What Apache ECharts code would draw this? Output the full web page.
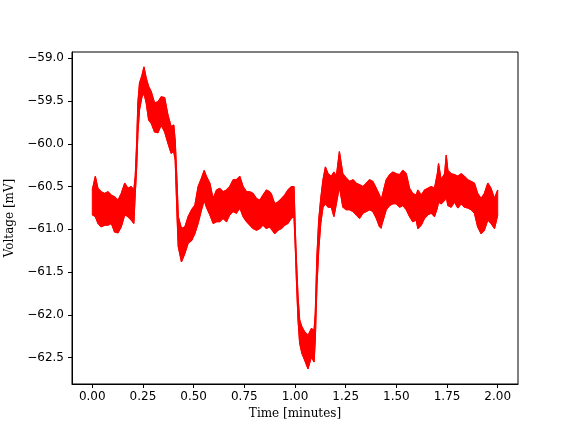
<!DOCTYPE html>
<html>
<head>
<meta charset="utf-8">
<script src="https://cdn.jsdelivr.net/npm/echarts@6/dist/echarts.min.js"></script>
<style>
html,body{margin:0;padding:0;background:#fff;}
#chart{width:576px;height:432px;}
</style>
</head>
<body>
<div id="chart"></div>
<script>
// Time in minutes
const timeMin = [
0.000,0.015,0.028,0.044,0.061,0.077,0.094,0.110,0.127,0.143,0.160,0.176,0.192,0.205,0.212,0.219,0.225,0.233,0.245,0.255,
0.266,0.278,0.291,0.307,0.324,0.340,0.357,0.373,0.389,0.402,0.409,0.419,0.424,0.440,0.457,0.473,0.490,0.506,0.522,0.539,
0.552,0.563,0.580,0.596,0.613,0.629,0.645,0.662,0.678,0.695,0.711,0.728,0.744,0.761,0.777,0.793,0.810,0.826,0.842,0.859,
0.875,0.884,0.900,0.916,0.933,0.949,0.965,0.982,0.995,1.002,1.007,1.015,1.023,1.034,1.048,1.064,1.081,1.094,1.100,1.108,
1.117,1.127,1.138,1.150,1.163,1.179,1.192,1.204,1.219,1.236,1.253,1.269,1.286,1.302,1.319,1.335,1.352,1.368,1.384,1.401,
1.417,1.425,1.433,1.450,1.467,1.483,1.500,1.516,1.532,1.549,1.565,1.581,1.598,1.606,1.623,1.639,1.655,1.672,1.688,1.702,
1.708,1.721,1.738,1.746,1.754,1.770,1.787,1.803,1.820,1.836,1.852,1.869,1.885,1.901,1.918,1.934,1.951,1.967,1.984,2.000
];
// Upper envelope of the noisy voltage trace [mV]
const voltHigh = [
-60.54,-60.38,-60.52,-60.56,-60.58,-60.56,-60.60,-60.62,-60.66,-60.58,-60.46,-60.52,-60.50,-60.54,-60.38,-59.99,-59.52,-59.29,-59.20,-59.10,
-59.23,-59.33,-59.39,-59.52,-59.51,-59.45,-59.46,-59.66,-59.80,-59.78,-59.96,-60.50,-60.85,-60.99,-60.97,-60.85,-60.77,-60.72,-60.50,-60.40,
-60.31,-60.38,-60.46,-60.64,-60.54,-60.52,-60.56,-60.54,-60.50,-60.42,-60.42,-60.38,-60.50,-60.56,-60.56,-60.58,-60.64,-60.66,-60.60,-60.54,
-60.56,-60.58,-60.70,-60.68,-60.64,-60.60,-60.54,-60.50,-60.50,-61.05,-61.36,-61.79,-62.06,-62.14,-62.20,-62.24,-62.16,-62.18,-61.98,-61.32,
-60.89,-60.64,-60.42,-60.27,-60.35,-60.38,-60.33,-60.38,-60.09,-60.35,-60.40,-60.44,-60.42,-60.46,-60.48,-60.50,-60.46,-60.42,-60.44,-60.52,
-60.60,-60.66,-60.58,-60.42,-60.36,-60.33,-60.35,-60.36,-60.31,-60.35,-60.52,-60.58,-60.60,-60.54,-60.60,-60.54,-60.52,-60.50,-60.52,-60.35,
-60.23,-60.42,-60.35,-60.13,-60.31,-60.35,-60.36,-60.38,-60.35,-60.38,-60.42,-60.44,-60.46,-60.58,-60.64,-60.58,-60.46,-60.52,-60.64,-60.54
];
// Lower envelope of the noisy voltage trace [mV]
const voltLow = [
-60.83,-60.85,-60.93,-60.97,-60.95,-60.95,-60.93,-61.03,-61.04,-60.97,-60.83,-60.85,-60.89,-60.93,-60.58,-60.27,-59.87,-59.60,-59.45,-59.41,
-59.52,-59.72,-59.76,-59.86,-59.87,-59.78,-59.86,-59.99,-60.11,-60.09,-60.19,-60.89,-61.20,-61.38,-61.28,-61.16,-61.13,-61.05,-60.93,-60.77,
-60.66,-60.74,-60.83,-60.93,-60.91,-60.91,-60.87,-60.91,-60.83,-60.79,-60.81,-60.75,-60.85,-60.91,-60.95,-60.99,-61.01,-60.99,-60.95,-60.99,
-60.97,-60.99,-61.05,-61.01,-60.99,-60.95,-60.93,-60.87,-60.85,-61.24,-61.59,-62.06,-62.33,-62.45,-62.53,-62.63,-62.49,-62.55,-62.29,-61.67,
-61.24,-60.93,-60.74,-60.70,-60.74,-60.74,-60.85,-60.70,-60.50,-60.74,-60.77,-60.77,-60.79,-60.83,-60.87,-60.81,-60.79,-60.77,-60.79,-60.87,
-60.97,-60.99,-60.91,-60.77,-60.72,-60.70,-60.70,-60.74,-60.72,-60.77,-60.85,-60.91,-60.89,-60.99,-60.95,-60.87,-60.83,-60.81,-60.85,-60.75,
-60.68,-60.70,-60.66,-60.62,-60.72,-60.74,-60.68,-60.75,-60.70,-60.74,-60.75,-60.77,-60.81,-60.97,-61.05,-61.01,-60.89,-60.93,-60.99,-60.83
];
const xTicks = [0, 0.25, 0.5, 0.75, 1.0, 1.25, 1.5, 1.75, 2.0];
const yTicks = [-62.5, -62.0, -61.5, -61.0, -60.5, -60.0, -59.5, -59.0];

const highData = timeMin.map((t, i) => [t, voltHigh[i]]);
const lowData = timeMin.map((t, i) => [t, voltLow[i]]);
const minus = s => s.replace('-', '\u2212');
const tickFont = {fontFamily: 'DejaVu Sans', fontSize: 12, color: '#000'};
const red = '#ff0000';

const chart = echarts.init(document.getElementById('chart'), null, {renderer: 'canvas'});
chart.setOption({
  animation: false,
  backgroundColor: '#fff',
  grid: {left: 72, right: 58, top: 52, bottom: 48, outerBoundsMode: 'none', containLabel: false,
         show: true, borderColor: '#000', borderWidth: 1, backgroundColor: 'transparent'},
  xAxis: {
    type: 'value', min: -0.1, max: 2.1,
    name: 'Time [minutes]', nameLocation: 'middle', nameGap: 17,
    nameTextStyle: {fontFamily: 'DejaVu Serif', fontSize: 12, color: '#000'},
    axisLine: {show: true, onZero: false, lineStyle: {color: '#000', width: 1}},
    axisTick: {show: true, length: 4, customValues: xTicks, lineStyle: {color: '#000'}},
    axisLabel: Object.assign({margin: 7, customValues: xTicks, formatter: v => minus(v.toFixed(2))}, tickFont),
    splitLine: {show: false}
  },
  yAxis: {
    type: 'value', min: -62.808, max: -58.926,
    name: 'Voltage [mV]', nameLocation: 'middle', nameGap: 50,
    nameTextStyle: {fontFamily: 'DejaVu Serif', fontSize: 12, color: '#000'},
    axisLine: {show: true, onZero: false, lineStyle: {color: '#000', width: 1}},
    axisTick: {show: true, length: 4, customValues: yTicks, lineStyle: {color: '#000'}},
    axisLabel: Object.assign({margin: 8, customValues: yTicks, formatter: v => minus(v.toFixed(1))}, tickFont),
    splitLine: {show: false}
  },
  series: [
    {
      // The whole band between upper and lower envelope, as one polygon
      type: 'custom', data: [[0, voltHigh[0]]], clip: true, z: 1, silent: true,
      renderItem: function (params, api) {
        const pts = [];
        for (let i = 0; i < timeMin.length; i++) pts.push(api.coord([timeMin[i], voltHigh[i]]));
        for (let i = timeMin.length - 1; i >= 0; i--) pts.push(api.coord([timeMin[i], voltLow[i]]));
        return {type: 'polygon', shape: {points: pts}, style: {fill: red, stroke: red, lineWidth: 1}};
      }
    },
    {type: 'line', data: highData, symbol: 'none', lineStyle: {color: red, width: 1.2}, z: 2},
    {type: 'line', data: lowData, symbol: 'none', lineStyle: {color: red, width: 1.2}, z: 2}
  ]
});
</script>
</body>
</html>
